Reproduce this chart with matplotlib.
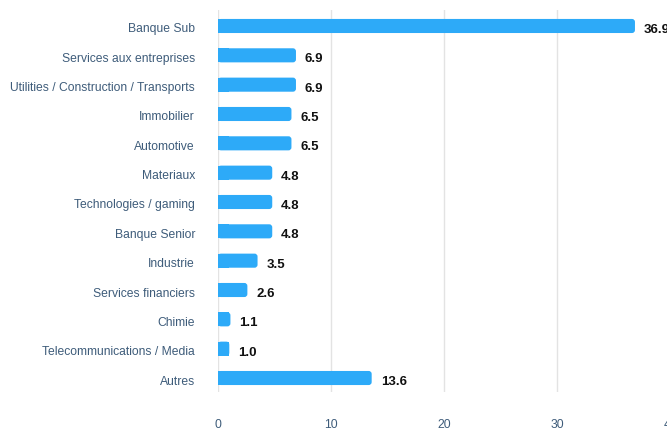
import matplotlib.pyplot as plt
import matplotlib.transforms as mtransforms
from matplotlib.patches import FancyBboxPatch, Rectangle

plt.rcParams['font.family'] = ['Liberation Sans', 'DejaVu Sans']

sectors = ["Banque Sub", "Services aux entreprises", "Utilities / Construction / Transports",
           "Immobilier", "Automotive", "Materiaux", "Technologies / gaming", "Banque Senior",
           "Industrie", "Services financiers", "Chimie", "Telecommunications / Media", "Autres"]
weights = [36.9, 6.9, 6.9, 6.5, 6.5, 4.8, 4.8, 4.8, 3.5, 2.6, 1.1, 1.0, 13.6]
xticks = [0, 10, 20, 30, 40]

bar_color = "#2daaf8"
label_color = "#3e5c7a"
bar_h = 0.48

fig = plt.figure(figsize=(6.67, 4.30), dpi=100)
ax = fig.add_axes([218 / 667, 38 / 430, 452 / 667, 382 / 430])

# x units per px and y units per px, used to keep the corner rounding circular
px_x = 40 / 452
px_y = 1 / 29.33
r = 3 * px_x
for i, w in enumerate(weights):
    y0 = i - bar_h / 2
    ax.add_patch(FancyBboxPatch((0, y0), w, bar_h,
                                boxstyle="round,pad=0,rounding_size=%f" % r,
                                mutation_aspect=px_y / px_x,
                                facecolor=bar_color, edgecolor="none", zorder=3))
    # square off the left end
    ax.add_patch(Rectangle((0, y0), min(w, 1.0), bar_h, facecolor=bar_color,
                           edgecolor="none", zorder=3))
    ax.text(w + 9 * px_x, i + 4 * px_y, "%.1f" % w, ha="left", va="center",
            fontsize=9.5, fontweight="bold", color="#111111", zorder=4)

ax.set_xlim(0, 40)
ax.set_ylim(len(sectors) - 1 + 0.477, -0.545)
ax.set_yticks(range(len(sectors)))
ax.set_yticklabels(sectors)
ax.set_xticks(xticks)
ax.tick_params(axis="y", length=0, pad=16.5, labelsize=8.75, labelcolor=label_color)
ax.tick_params(axis="x", length=0, pad=19.5, labelsize=8.75, labelcolor=label_color)
ax.grid(axis="x", color="#e3e3e3", linewidth=1, zorder=0)
for s in ax.spines.values():
    s.set_visible(False)

shift = mtransforms.ScaledTranslation(0, -2 / 100, fig.dpi_scale_trans)
for lbl in ax.get_yticklabels():
    lbl.set_transform(lbl.get_transform() + shift)

fig.savefig("out.png", dpi=100)
